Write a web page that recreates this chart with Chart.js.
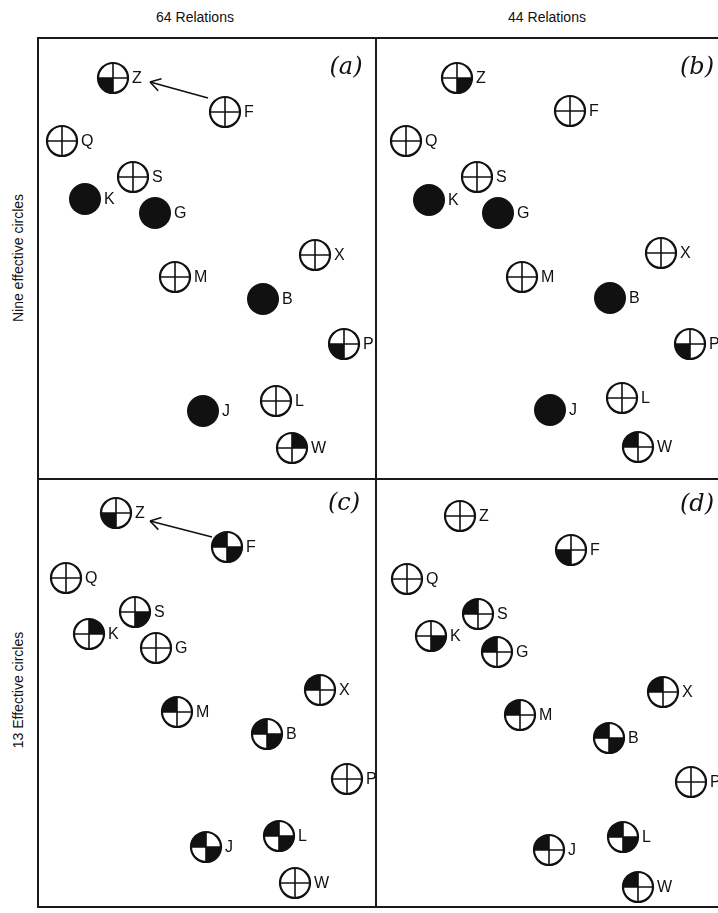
<!DOCTYPE html>
<html>
<head>
<meta charset="utf-8">
<script src="https://cdn.jsdelivr.net/npm/chart.js@4.4.1/dist/chart.umd.min.js"></script>
<style>
  body { margin: 0; background: #fff; width: 718px; height: 913px; overflow: hidden; position: relative; font-family: "Liberation Sans", Arial, sans-serif; color: #111; }
  canvas { position: absolute; }
  .line { position: absolute; background: #1a1a1a; }
  .title { position: absolute; top: 9px; font-size: 14px; transform: translateX(-50%); white-space: nowrap; }
  .side { position: absolute; left: 18px; font-size: 14px; white-space: nowrap; transform: translate(-50%, -50%) rotate(-90deg); }
  .tag { position: absolute; font-family: "DejaVu Serif", serif; font-style: italic; font-size: 24px; transform: translate(-50%, -50%); white-space: nowrap; }
</style>
</head>
<body>
<div class="title" style="left:195px">64 Relations</div>
<div class="title" style="left:547px">44 Relations</div>
<div class="side" style="top:258px">Nine effective circles</div>
<div class="side" style="top:690px">13 Effective circles</div>

<canvas id="pa" width="338" height="441" style="left:38px;top:38px"></canvas>
<canvas id="pb" width="346" height="441" style="left:376px;top:38px"></canvas>
<canvas id="pc" width="338" height="428" style="left:38px;top:479px"></canvas>
<canvas id="pd" width="346" height="428" style="left:376px;top:479px"></canvas>

<div class="line" style="left:37px;top:37px;width:690px;height:2px"></div>
<div class="line" style="left:37px;top:478px;width:690px;height:2px"></div>
<div class="line" style="left:37px;top:906px;width:690px;height:2px"></div>
<div class="line" style="left:37px;top:37px;width:2px;height:871px"></div>
<div class="line" style="left:375px;top:37px;width:2px;height:871px"></div>

<div class="tag" style="left:346px;top:66px">(a)</div>
<div class="tag" style="left:697px;top:66px">(b)</div>
<div class="tag" style="left:344px;top:502px">(c)</div>
<div class="tag" style="left:697px;top:503px">(d)</div>

<script>
// stimuli, same order in every panel
const labels = ['Z', 'F', 'Q', 'S', 'K', 'G', 'M', 'X', 'B', 'P', 'J', 'L', 'W'];

// (a) 64 relations, nine effective circles
const xA = [7.5, 18.7, 2.4, 9.5, 4.7, 11.7, 13.7, 27.7, 22.5, 30.6, 16.5, 23.8, 25.4];
const yA = [40.1, 36.7, 33.8, 30.2, 28.0, 26.6, 20.2, 22.4, 18.0, 13.5, 6.8, 7.8, 3.1];
const fillA = ['bl', 'o', 'o', 'o', 'full', 'full', 'o', 'o', 'full', 'bl', 'full', 'o', 'tr'];

// (b) 44 relations, nine effective circles
const xB = [8.1, 19.4, 3.0, 10.1, 5.3, 12.2, 14.6, 28.5, 23.4, 31.4, 17.4, 24.6, 26.2];
const yB = [40.1, 36.8, 33.8, 30.2, 27.9, 26.6, 20.2, 22.6, 18.1, 13.5, 6.9, 8.1, 3.2];
const fillB = ['br', 'o', 'o', 'o', 'full', 'full', 'o', 'o', 'full', 'bl', 'full', 'o', 'tl'];

// (c) 64 relations, 13 effective circles
const xC = [7.8, 18.9, 2.8, 9.7, 5.1, 11.8, 13.9, 28.2, 22.9, 30.9, 16.8, 24.1, 25.7];
const yC = [39.4, 36.0, 32.9, 29.5, 27.3, 25.9, 19.5, 21.7, 17.3, 12.8, 6.0, 7.1, 2.4];
const fillC = ['bl', 'tl+br', 'o', 'br', 'tr', 'o', 'tl', 'tl', 'tl+br', 'o', 'tl+br', 'tl+br', 'o'];

// (d) 44 relations, 13 effective circles
const xD = [8.4, 19.5, 3.1, 10.2, 5.5, 12.1, 14.4, 28.7, 23.3, 31.5, 17.3, 24.7, 26.2];
const yD = [39.1, 35.7, 32.8, 29.3, 27.1, 25.5, 19.2, 21.5, 16.9, 12.5, 5.7, 7.0, 2.0];
const fillD = ['o', 'bl', 'o', 'tl', 'br', 'tl', 'tl', 'tl', 'tl+br', 'o', 'tl', 'tl+br', 'tl'];

// arrows F -> Z in the 64-relation panels
const arrowAx = [17.0, 11.2], arrowAy = [38.1, 39.7];
const arrowCx = [17.4, 11.2], arrowCy = [37.0, 38.6];

const ink = '#111';

function marker(code) {
  const r = 15, s = 2 * r + 6, c = s / 2;
  const cv = document.createElement('canvas');
  cv.width = s; cv.height = s;
  const g = cv.getContext('2d');
  g.fillStyle = ink;
  g.strokeStyle = ink;
  if (code === 'full') {
    g.beginPath(); g.arc(c, c, r + 1, 0, 2 * Math.PI); g.fill();
    return cv;
  }
  const quads = {
    tr: [-Math.PI / 2, 0], br: [0, Math.PI / 2],
    bl: [Math.PI / 2, Math.PI], tl: [Math.PI, 1.5 * Math.PI]
  };
  code.split('+').forEach(q => {
    if (!quads[q]) return;
    g.beginPath(); g.moveTo(c, c);
    g.arc(c, c, r, quads[q][0], quads[q][1]);
    g.closePath(); g.fill();
  });
  g.lineWidth = 2.2;
  g.beginPath(); g.arc(c, c, r, 0, 2 * Math.PI); g.stroke();
  g.lineWidth = 1.6;
  g.beginPath();
  g.moveTo(c - r, c); g.lineTo(c + r, c);
  g.moveTo(c, c - r); g.lineTo(c, c + r);
  g.stroke();
  return cv;
}

const letterPlugin = {
  id: 'letters',
  afterDatasetsDraw(chart) {
    const ctx = chart.ctx;
    const meta = chart.getDatasetMeta(0);
    ctx.save();
    ctx.font = '16px "Liberation Sans", Arial, sans-serif';
    ctx.fillStyle = ink;
    ctx.textBaseline = 'middle';
    meta.data.forEach((pt, i) => ctx.fillText(labels[i], pt.x + 19, pt.y + 1));
    // arrowhead on the F -> Z line
    if (chart.data.datasets.length > 1) {
      const pts = chart.getDatasetMeta(1).data;
      const p0 = pts[0], p1 = pts[pts.length - 1];
      const ang = Math.atan2(p1.y - p0.y, p1.x - p0.x);
      ctx.strokeStyle = ink;
      ctx.lineWidth = 1.6;
      ctx.beginPath();
      [0.55, -0.55].forEach(d => {
        ctx.moveTo(p1.x, p1.y);
        ctx.lineTo(p1.x - 12 * Math.cos(ang + d), p1.y - 12 * Math.sin(ang + d));
      });
      ctx.stroke();
    }
    ctx.restore();
  }
};

function panel(id, xs, ys, fills, ax, ay) {
  const cv = document.getElementById(id);
  const datasets = [{
    type: 'scatter',
    data: xs.map((x, i) => ({ x: x, y: ys[i] })),
    pointStyle: fills.map(marker),
    pointRadius: 16,
    clip: false
  }];
  if (ax) {
    datasets.push({
      type: 'line',
      data: ax.map((x, i) => ({ x: x, y: ay[i] })),
      borderColor: ink,
      borderWidth: 1.6,
      pointRadius: 0,
      fill: false,
      clip: false
    });
  }
  new Chart(cv, {
    type: 'scatter',
    data: { datasets: datasets },
    options: {
      responsive: false,
      animation: false,
      events: [],
      layout: { padding: 0, autoPadding: false },
      plugins: { legend: { display: false }, tooltip: { enabled: false } },
      scales: {
        x: { type: 'linear', display: false, min: 0, max: cv.width / 10 },
        y: { type: 'linear', display: false, min: 0, max: cv.height / 10 }
      }
    },
    plugins: [letterPlugin]
  });
}

panel('pa', xA, yA, fillA, arrowAx, arrowAy);
panel('pb', xB, yB, fillB);
panel('pc', xC, yC, fillC, arrowCx, arrowCy);
panel('pd', xD, yD, fillD);
</script>
</body>
</html>
